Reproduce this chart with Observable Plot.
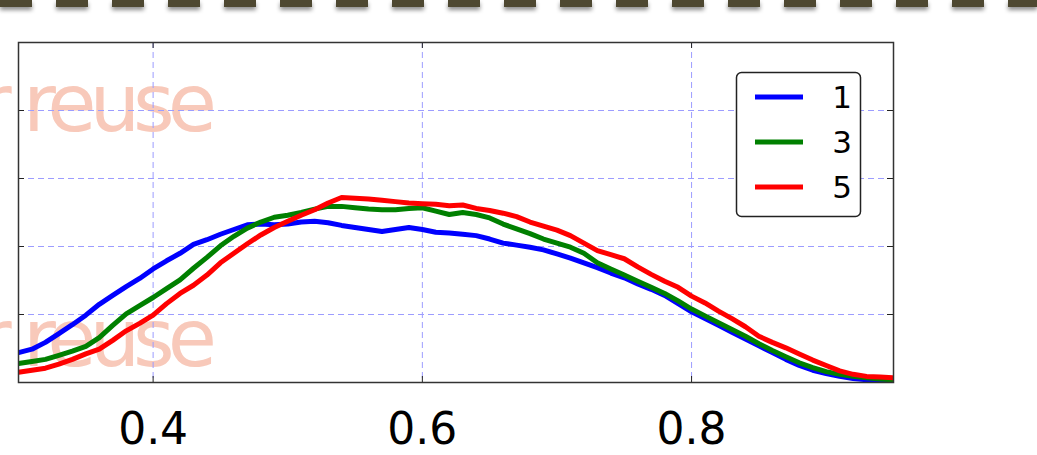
<!DOCTYPE html>
<html><head><meta charset="utf-8">
<script src="https://cdn.jsdelivr.net/npm/d3@7"></script>
<script src="https://cdn.jsdelivr.net/npm/@observablehq/plot@0.6"></script>
<style>
html,body{margin:0;padding:0;background:#fff;overflow:hidden}
#wrap{position:relative;width:1037px;height:455px;overflow:hidden;font-family:"DejaVu Sans",sans-serif}
.layer{position:absolute;left:0;top:0}
.band{position:absolute;left:0;top:0;width:1037px;height:7px;background:repeating-linear-gradient(to right,#4e4831 0 32px,transparent 32px 56px);filter:drop-shadow(0 3px 2px rgba(0,0,0,0.45))}
</style></head>
<body><div id="wrap"><div class="band"></div></div>
<script>
const xValues = [0.30,0.31,0.32,0.33,0.34,0.35,0.36,0.37,0.38,0.39,0.40,0.41,0.42,0.43,0.44,0.45,0.46,0.47,0.48,0.49,0.50,0.51,0.52,0.53,0.54,0.55,0.56,0.57,0.58,0.59,0.60,0.61,0.62,0.63,0.64,0.65,0.66,0.67,0.68,0.69,0.70,0.71,0.72,0.73,0.74,0.75,0.76,0.77,0.78,0.79,0.80,0.81,0.82,0.83,0.84,0.85,0.86,0.87,0.88,0.89,0.90,0.91,0.92,0.93,0.94,0.95];
const series1 = [0.44,0.49,0.59,0.72,0.85,0.99,1.15,1.28,1.41,1.53,1.67,1.79,1.90,2.03,2.10,2.18,2.25,2.32,2.33,2.32,2.33,2.36,2.37,2.35,2.31,2.28,2.25,2.22,2.25,2.28,2.25,2.21,2.20,2.18,2.16,2.11,2.05,2.02,1.99,1.95,1.89,1.83,1.76,1.69,1.61,1.54,1.45,1.37,1.28,1.16,1.04,0.94,0.84,0.74,0.64,0.54,0.44,0.34,0.25,0.18,0.13,0.09,0.06,0.04,0.02,0.01];
const series3 = [0.28,0.31,0.34,0.40,0.46,0.53,0.66,0.84,1.01,1.13,1.25,1.38,1.51,1.68,1.84,2.01,2.15,2.27,2.36,2.43,2.46,2.50,2.55,2.59,2.59,2.57,2.55,2.54,2.54,2.56,2.57,2.52,2.47,2.50,2.47,2.42,2.33,2.26,2.19,2.11,2.05,1.99,1.90,1.76,1.67,1.58,1.49,1.40,1.31,1.20,1.08,0.98,0.88,0.78,0.68,0.57,0.47,0.38,0.29,0.22,0.16,0.12,0.09,0.07,0.05,0.04];
const series5 = [0.15,0.18,0.21,0.27,0.34,0.42,0.49,0.62,0.76,0.87,0.99,1.16,1.31,1.43,1.58,1.76,1.90,2.04,2.17,2.28,2.37,2.46,2.54,2.64,2.72,2.71,2.70,2.68,2.66,2.64,2.63,2.62,2.60,2.61,2.56,2.53,2.49,2.44,2.36,2.30,2.24,2.16,2.05,1.94,1.88,1.82,1.70,1.59,1.49,1.40,1.27,1.17,1.05,0.94,0.82,0.68,0.59,0.51,0.42,0.33,0.25,0.17,0.12,0.09,0.08,0.07];
const seriesNames = ["1","3","5"];
const seriesColors = ["#0000ff","#008000","#ff0000"];
const xTicks = [0.4,0.6,0.8];
const yTicks = [1,2,3,4];
const watermarkText = "Not for reuse";

const seriesValues = [series1, series3, series5];
const data = [];
seriesNames.forEach((name, i) => xValues.forEach((x, j) => data.push({series: name, x, y: seriesValues[i][j]})));

const W = 1037, H = 455, mL = 18, mR = 144, mT = 42, mB = 73;
const innerW = W - mL - mR, innerH = H - mT - mB;
const wrap = document.getElementById("wrap");
const ns = "http://www.w3.org/2000/svg";

// watermark layer (behind plot)
const wm = document.createElementNS(ns, "svg");
wm.setAttribute("width", W); wm.setAttribute("height", H); wm.setAttribute("class", "layer");
[131, 366].forEach(yb => {
  const t = document.createElementNS(ns, "text");
  t.setAttribute("x", 210); t.setAttribute("y", yb);
  t.setAttribute("text-anchor", "end");
  t.setAttribute("font-family", "DejaVu Sans");
  t.setAttribute("font-size", 80);
  t.setAttribute("letter-spacing", "-7");
  t.setAttribute("fill", "rgb(248,201,186)");
  t.textContent = watermarkText;
  wm.appendChild(t);
});
wrap.appendChild(wm);

const grid = {stroke: "#9c9cff", strokeWidth: 1, strokeDasharray: "6,4"};
const tickStyle = {stroke: "#222", strokeWidth: 1};
const chart = Plot.plot({
  width: W, height: H,
  marginLeft: mL, marginRight: mR, marginTop: mT, marginBottom: mB,
  style: {background: "transparent", fontFamily: "DejaVu Sans", overflow: "visible"},
  x: {domain: [0.3, 0.95], axis: null, label: null},
  y: {domain: [0, 5], axis: null, label: null},
  color: {domain: seriesNames, range: seriesColors},
  marks: [
    Plot.ruleX(xTicks, grid),
    Plot.ruleY(yTicks, grid),
    Plot.line(data, {x: "x", y: "y", z: "series", stroke: "series", strokeWidth: 5, strokeLinejoin: "round", clip: true}),
    Plot.ruleX(xTicks, {...tickStyle, insetTop: innerH - 6}),
    Plot.ruleX(xTicks, {...tickStyle, insetBottom: innerH - 6}),
    Plot.ruleY(yTicks, {...tickStyle, insetRight: innerW - 6}),
    Plot.ruleY(yTicks, {...tickStyle, insetLeft: innerW - 6}),
    Plot.frame({stroke: "#333", strokeWidth: 1.5}),
    Plot.axisX(xTicks, {tickSize: 0, tickPadding: 30, fontSize: 44, label: null, tickFormat: d => d.toFixed(1), fill: "#000"})
  ]
});
chart.setAttribute("class", (chart.getAttribute("class") || "") + " layer");
chart.style.position = "absolute"; chart.style.left = "0"; chart.style.top = "0";
wrap.appendChild(chart);

// legend
const lg = document.createElementNS(ns, "svg");
lg.setAttribute("width", W); lg.setAttribute("height", H); lg.setAttribute("class", "layer");
const box = document.createElementNS(ns, "rect");
box.setAttribute("x", 736.5); box.setAttribute("y", 72.5); box.setAttribute("width", 124); box.setAttribute("height", 144);
box.setAttribute("rx", 5); box.setAttribute("fill", "#fff"); box.setAttribute("stroke", "#222"); box.setAttribute("stroke-width", 1.5);
lg.appendChild(box);
seriesNames.forEach((name, i) => {
  const cy = 97 + i * 45;
  const l = document.createElementNS(ns, "line");
  l.setAttribute("x1", 755); l.setAttribute("x2", 803); l.setAttribute("y1", cy); l.setAttribute("y2", cy);
  l.setAttribute("stroke", seriesColors[i]); l.setAttribute("stroke-width", 5);
  lg.appendChild(l);
  const t = document.createElementNS(ns, "text");
  t.setAttribute("x", 852); t.setAttribute("y", cy + 11);
  t.setAttribute("text-anchor", "end"); t.setAttribute("font-family", "DejaVu Sans");
  t.setAttribute("font-size", 31); t.setAttribute("fill", "#000");
  t.textContent = name;
  lg.appendChild(t);
});
wrap.appendChild(lg);
</script></body></html>
